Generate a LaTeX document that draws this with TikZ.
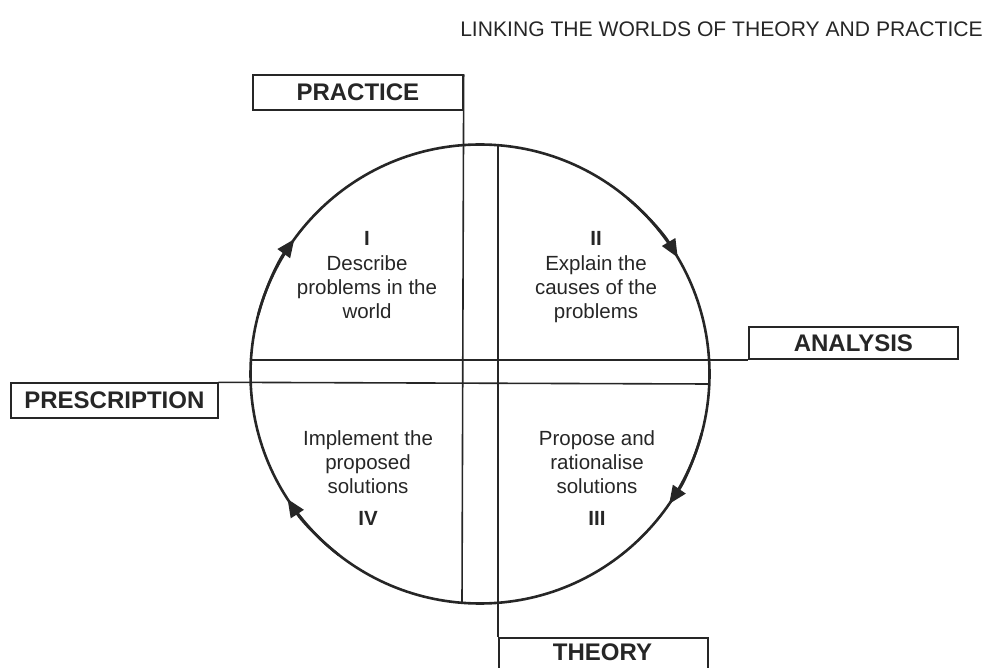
\documentclass[tikz,border=0pt]{standalone}
\usepackage{fontspec}
\setmainfont{Liberation Sans}
\usetikzlibrary{arrows.meta,calc}
\definecolor{ink}{HTML}{262626}
\tikzset{
  labelbox/.style={draw=ink, line width=1.7pt, inner sep=0pt, anchor=south west,
    font=\fontsize{24}{28}\selectfont\bfseries, text=ink},
  crossline/.style={draw=ink, line width=1.6pt},
  ring/.style={draw=ink, line width=2.6pt, circle, inner sep=0pt, minimum size=459pt},
  flow/.style={draw=ink, line width=2.6pt, -{Triangle[length=18pt,width=15pt]}},
  quadtext/.style={align=center, anchor=base, font=\fontsize{20.5}{24.2}\selectfont, text=ink},
  numeral/.style={font=\fontsize{20.5}{24}\selectfont\bfseries, text=ink, anchor=base},
  titletext/.style={font=\fontsize{21.1}{24}\selectfont, text=ink, anchor=center}
}
\begin{document}
\begin{tikzpicture}[x=1pt,y=1pt]
\useasboundingbox (0,0) rectangle (987,667);
\clip (0,0) rectangle (987,667);
% title
\node[titletext] (title) at (721.5,638) {LINKING THE WORLDS OF THEORY AND PRACTICE};
% circle
\coordinate (c) at (480,293);
\node[ring] (ring) at (c) {};
% label boxes
\node[labelbox, minimum width=210pt, minimum height=35pt] (practice) at (252,556) {PRACTICE};
\node[labelbox, minimum width=209pt, minimum height=32pt] (analysis) at (748,307) {ANALYSIS};
\node[labelbox, minimum width=207pt, minimum height=35pt] (prescription) at (10,248) {PRESCRIPTION};
\node[labelbox, minimum width=209pt, minimum height=35pt, anchor=north west] (theory) at (498,30) {};
\node[font=\fontsize{24}{28}\selectfont\bfseries, text=ink] (theorytext) at (602.5,15) {THEORY};
% intersection points with circle
\coordinate (vbot) at (462,64.2);
\coordinate (vtop) at (498,521.8);
\coordinate (hleft) at (250.9,307);
\coordinate (hright) at (709.3,283);
% cross lines
\draw[crossline] (practice.north east) -- (vbot);
\draw[crossline] (vtop) -- (theory.north west);
\draw[crossline] (hleft) -- (analysis.south west);
\draw[crossline] (prescription.north east) -- (hright);
% direction arrows (clockwise)
\draw[flow] ($(c)+(165:229.5)$) arc[start angle=165, end angle=144, radius=229.5];
\draw[flow] ($(c)+(50:229.5)$) arc[start angle=50, end angle=30.5, radius=229.5];
\draw[flow] ($(c)+(-15:229.5)$) arc[start angle=-15, end angle=-34.5, radius=229.5];
\draw[flow] ($(c)+(232:229.5)$) arc[start angle=232, end angle=213, radius=229.5];
% quadrant texts
\node[numeral] (n1) at (367,421.5) {I};
\node[quadtext] (q1) at (367,348.5) {Describe\\problems in the\\world};
\node[numeral] (n2) at (596,421.5) {II};
\node[quadtext] (q2) at (596,348.5) {Explain the\\causes of the\\problems};
\node[quadtext] (q4) at (368,173.5) {Implement the\\proposed\\solutions};
\node[numeral] (n4) at (368,141.5) {IV};
\node[quadtext] (q3) at (597,173.5) {Propose and\\rationalise\\solutions};
\node[numeral] (n3) at (597,141.5) {III};
\end{tikzpicture}
\end{document}
